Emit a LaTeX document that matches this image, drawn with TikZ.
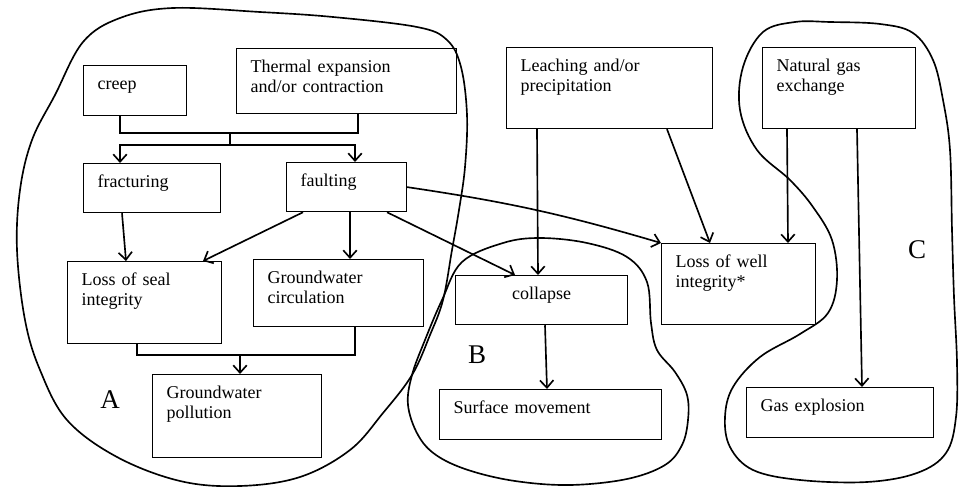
\documentclass[tikz,border=0pt]{standalone}
\usepackage{fontspec}
\setmainfont{Liberation Serif}
\usetikzlibrary{arrows.meta,calc}

\begin{document}
\begin{tikzpicture}[x=0.6667pt, y=-0.6667pt,
  box/.style={rectangle, draw, line width=0.8pt, anchor=north west, align=left, inner xsep=9.33pt, inner ysep=3pt, text height=13pt, font=\fontsize{12}{13.5}\selectfont},
  link/.style={line width=1.1pt},
  arr/.style={link, -{Straight Barb[length=5pt, width=9pt, line width=1.1pt]}},
  zone/.style={line width=1.1pt, tension=0.6},
  zonelabel/.style={font=\fontsize{18}{18}\selectfont}]
\fill[white] (0,0) rectangle (959,487);
\useasboundingbox (0,0) rectangle (959,487);

\node[box, text width=50pt, text depth=14.3pt] (creep) at (83,65) {creep};
\node[box, text width=128pt, text depth=24.3pt] (thermal) at (236,48) {Thermal expansion\\and/or contraction};
\node[box, text width=118.7pt, text depth=35pt] (leaching) at (506,47) {Leaching and/or\\precipitation};
\node[box, text width=83.3pt, text depth=35pt] (natgas) at (762,47) {Natural gas\\exchange};
\node[box, text width=72.7pt, text depth=13.7pt] (fracturing) at (83,163) {fracturing};
\node[box, text width=61.3pt, text depth=13.7pt] (faulting) at (286,162) {faulting};
\node[box, text width=84pt, text depth=35.7pt] (seal) at (67,261) {Loss of seal\\integrity};
\node[box, text width=94.7pt, text depth=25.7pt] (circulation) at (253,259) {Groundwater\\circulation};
\node[box, text width=96pt, text depth=13.7pt, align=center] (collapse) at (455,275) {collapse};
\node[box, text width=84pt, text depth=35pt] (well) at (661,243) {Loss of well\\integrity*};
\node[box, text width=94pt, text depth=36.3pt] (pollution) at (152,374) {Groundwater\\pollution};
\node[box, text width=129.3pt, text depth=14.3pt] (surface) at (439,389) {Surface movement};
\node[box, text width=106pt, text depth=14.3pt] (explosion) at (746,387) {Gas explosion};

\node[zonelabel] (labelA) at (110,400) {A};
\node[zonelabel] (labelB) at (477,355) {B};
\node[zonelabel] (labelC) at (917,250) {C};

\coordinate (jtop) at (230,133);
\coordinate (jbot) at (230,145);
\coordinate (jpol) at (240,355);

\draw[link] ($(creep.south west)+(37,0)$) |- (jtop) -| ($(thermal.south west)+(122,0)$);
\draw[link] (jtop) -- (jbot);
\draw[arr] (jbot) -| ($(fracturing.north west)+(37,0)$);
\draw[arr] (jbot) -| ($(faulting.north west)+(69,0)$);
\draw[arr] ($(fracturing.south west)+(39,0)$) -- ($(seal.north west)+(59,0)$);
\draw[arr] ($(faulting.south west)+(17,0)$) -- ($(seal.north west)+(136,0)$);
\draw[arr] ($(faulting.south west)+(64,0)$) -- ($(circulation.north west)+(97,0)$);
\draw[arr] ($(faulting.south west)+(101,0)$) -- ($(collapse.north west)+(60,0)$);
\draw[arr] (faulting.east) to[bend left=4] (well.north west);
\draw[arr] ($(leaching.south west)+(31,0)$) -- ($(collapse.north west)+(83,0)$);
\draw[arr] ($(leaching.south west)+(161,0)$) -- ($(well.north west)+(49,0)$);
\draw[arr] ($(natgas.south west)+(25,0)$) -- ($(well.north west)+(127,0)$);
\draw[arr] ($(natgas.south west)+(95,0)$) -- ($(explosion.north west)+(116,0)$);
\draw[arr] ($(collapse.south west)+(90,0)$) -- ($(surface.north west)+(108,0)$);
\draw[link] ($(seal.south west)+(70,0)$) |- (jpol) -| ($(circulation.south west)+(102,0)$);
\draw[arr] (jpol) -- ($(pollution.north west)+(88,0)$);

\draw[zone] plot[smooth cycle] coordinates {(83,42) (120,18) (173,8) (260,12) (333,17) (417,27) (447,40) (461,67) (467,115) (465,167) (459,210) (452,250) (443,300) (430,335) (412,375) (383,413) (350,450) (300,477) (240,486) (180,481) (117,457) (67,420) (40,370) (25,320) (17,250) (20,190) (32,140) (55,95)};
\draw[zone] plot[smooth cycle] coordinates {(503,243) (540,238) (587,243) (627,257) (647,282) (651,323) (657,350) (675,372) (687,395) (688,420) (682,445) (665,465) (627,479) (570,485) (515,481) (468,470) (436,455) (418,435) (408,405) (412,375) (425,340) (442,300) (462,262)};
\draw[zone] plot[smooth cycle] coordinates {(830,22) (880,24) (913,33) (933,60) (943,100) (950,150) (952,230) (954,297) (957,363) (956,417) (946,453) (917,473) (867,482) (800,480) (753,470) (730,447) (725,417) (733,387) (760,357) (800,334) (828,313) (837,280) (832,240) (813,207) (790,180) (757,150) (740,110) (743,67) (763,32) (795,22)};
\end{tikzpicture}
\end{document}
